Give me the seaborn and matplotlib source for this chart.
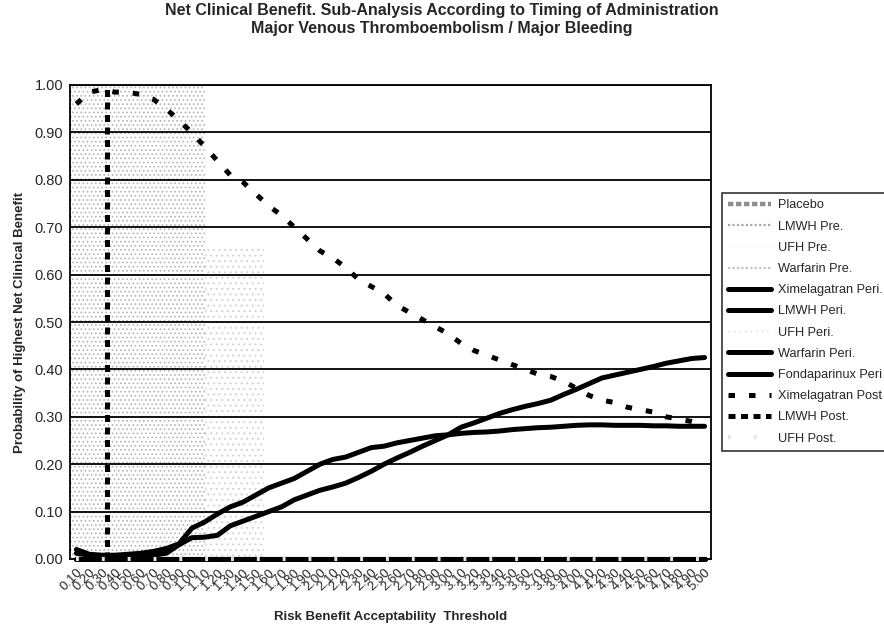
import numpy as np
import pandas as pd
import matplotlib
matplotlib.use("Agg")
import matplotlib.pyplot as plt
import seaborn as sns

# ---------------- data ----------------
thresholds = [round(0.1 * (i + 1), 2) for i in range(50)]
tick_labels = [f"{t:.2f}" for t in thresholds]

series_names = ["Placebo", "LMWH Pre.", "UFH Pre.", "Warfarin Pre.",
                "Ximelagatran Peri.", "LMWH Peri.", "UFH Peri.", "Warfarin Peri.",
                "Fondaparinux Peri", "Ximelagatran Post", "LMWH Post.", "UFH Post."]

zeros = [0.0] * 50

ximelagatran_peri = [0.020, 0.010, 0.008, 0.008, 0.010, 0.012, 0.016, 0.022, 0.032, 0.065,
                     0.078, 0.095, 0.110, 0.120, 0.135, 0.150, 0.160, 0.170, 0.185, 0.200,
                     0.210, 0.215, 0.225, 0.235, 0.238, 0.245, 0.250, 0.255, 0.260, 0.262,
                     0.265, 0.267, 0.268, 0.270, 0.273, 0.275, 0.277, 0.278, 0.280, 0.282,
                     0.283, 0.283, 0.282, 0.282, 0.282, 0.281, 0.281, 0.280, 0.280, 0.280]

fondaparinux_peri = [0.012, 0.008, 0.006, 0.005, 0.005, 0.006, 0.008, 0.012, 0.030, 0.045,
                     0.046, 0.050, 0.070, 0.080, 0.090, 0.100, 0.110, 0.125, 0.135, 0.145,
                     0.152, 0.160, 0.172, 0.185, 0.200, 0.213, 0.225, 0.238, 0.250, 0.262,
                     0.278, 0.287, 0.297, 0.307, 0.315, 0.322, 0.328, 0.335, 0.347, 0.358,
                     0.370, 0.382, 0.388, 0.394, 0.400, 0.406, 0.413, 0.418, 0.423, 0.425]

ximelagatran_post = [0.960, 0.985, 0.990, 0.985, 0.985, 0.980, 0.970, 0.950, 0.925, 0.900,
                     0.870, 0.840, 0.810, 0.795, 0.770, 0.745, 0.725, 0.700, 0.675, 0.650,
                     0.635, 0.615, 0.590, 0.575, 0.560, 0.535, 0.520, 0.505, 0.490, 0.475,
                     0.455, 0.440, 0.430, 0.420, 0.410, 0.400, 0.390, 0.385, 0.375, 0.360,
                     0.345, 0.335, 0.330, 0.320, 0.315, 0.310, 0.300, 0.295, 0.290, 0.283]

lmwh_post = [np.nan, np.nan, np.nan] + [0.0] * 47
lmwh_post_drop_at = 0.335   # threshold where LMWH Post. drops from top to 0

series_values = {
    "Placebo": zeros, "LMWH Pre.": zeros, "UFH Pre.": zeros, "Warfarin Pre.": zeros,
    "Ximelagatran Peri.": ximelagatran_peri, "LMWH Peri.": zeros, "UFH Peri.": zeros,
    "Warfarin Peri.": zeros, "Fondaparinux Peri": fondaparinux_peri,
    "Ximelagatran Post": ximelagatran_post, "LMWH Post.": lmwh_post, "UFH Post.": zeros,
}

title = ("Net Clinical Benefit. Sub-Analysis According to Timing of Administration\n"
         "Major Venous Thromboembolism / Major Bleeding")
xlabel = "Risk Benefit Acceptability  Threshold"
ylabel = "Probability of Highest Net Clinical Benefit"

# ---------------- styles ----------------
styles = {
    "Placebo": dict(color="#8c8c8c", lw=3.2, ls=(0, (1.2, 0.6))),
    "LMWH Pre.": dict(color="#a8a8a8", lw=1.6, ls=(0, (1, 1))),
    "UFH Pre.": dict(color="#f0f0f0", lw=1.0, ls=(0, (1, 2))),
    "Warfarin Pre.": dict(color="#c4c4c4", lw=1.6, ls=(0, (1, 1))),
    "Ximelagatran Peri.": dict(color="black", lw=3.6, ls="-"),
    "LMWH Peri.": dict(color="black", lw=3.6, ls="-"),
    "UFH Peri.": dict(color="#d8d8d8", lw=1.0, ls=(0, (1, 3))),
    "Warfarin Peri.": dict(color="black", lw=3.6, ls="-"),
    "Fondaparinux Peri": dict(color="black", lw=3.6, ls="-"),
    "Ximelagatran Post": dict(color="black", lw=3.6, ls=(0, (1.3, 2.8))),
    "LMWH Post.": dict(color="black", lw=3.6, ls=(0, (1.4, 1.1))),
    "UFH Post.": dict(color="#e4e4e4", lw=3.0, ls=(0, (0.7, 5.5))),
}

# ---------------- figure ----------------
sns.set_theme(style="white")
plt.rcParams["font.family"] = ["Liberation Sans", "DejaVu Sans"]
plt.rcParams["hatch.linewidth"] = 0.7

fig = plt.figure(figsize=(8.84, 6.30), dpi=100)
ax = fig.add_axes([70 / 884, 1 - 559 / 630, (711 - 70) / 884, (559 - 85) / 630])

# scanned stipple background
ax.fill_between([0.05, 1.10], 0, 1.0, facecolor="none", edgecolor="#b4b4b4",
                hatch="....", linewidth=0, zorder=0)
ax.fill_between([1.10, 1.56], 0, 0.66, facecolor="none", edgecolor="#d2d2d2",
                hatch="...", linewidth=0, zorder=0)

for name in series_names:
    st = styles[name]
    df = pd.DataFrame({"threshold": thresholds, "value": series_values[name]})
    sns.lineplot(data=df, x="threshold", y="value", ax=ax, label=name,
                 color=st["color"], linewidth=st["lw"], linestyle=st["ls"],
                 estimator=None, sort=False, zorder=3, clip_on=False)
    if name == "LMWH Post.":
        ax.axvline(lmwh_post_drop_at, color=st["color"], lw=st["lw"],
                   ls=st["ls"], zorder=3)

ax.set_xlim(0.05, 5.05)
ax.set_ylim(0, 1.0)
ax.set_yticks(np.arange(0, 1.01, 0.1))
ax.set_yticklabels([f"{v:.2f}" for v in np.arange(0, 1.01, 0.1)], fontsize=10.5)
ax.set_xticks(thresholds)
ax.set_xticklabels(tick_labels, rotation=45, ha="right", va="top",
                   rotation_mode="anchor", fontsize=9.5)
ax.set_xticks([t + 0.05 for t in [0.0] + thresholds], minor=True)
ax.tick_params(axis="x", which="major", length=0, pad=5)
ax.tick_params(axis="x", which="minor", length=3, color="black", width=0.8)
ax.tick_params(axis="y", length=4, color="black", width=0.8, pad=1)

ax.yaxis.grid(True, color="black", linewidth=1.3)
ax.set_axisbelow(True)
for s in ax.spines.values():
    s.set_color("black")
    s.set_linewidth(1.3)

ax.set_xlabel(xlabel, fontsize=9.5, fontweight="bold", labelpad=13)
ax.set_ylabel(ylabel, fontsize=9.5, fontweight="bold", labelpad=6)

fig.suptitle(title, fontsize=11.5, fontweight="bold", y=0.995)

leg = ax.legend(loc="upper left", bbox_to_anchor=(722 / 884, 1 - 193 / 630),
                bbox_transform=fig.transFigure, frameon=True, fontsize=9.2,
                handlelength=3.3, handletextpad=0.6, labelspacing=0.72,
                borderpad=0.5, fancybox=False, borderaxespad=0)
leg.get_frame().set_edgecolor("black")
leg.get_frame().set_linewidth(1.2)

fig.savefig("out.png", dpi=100)
